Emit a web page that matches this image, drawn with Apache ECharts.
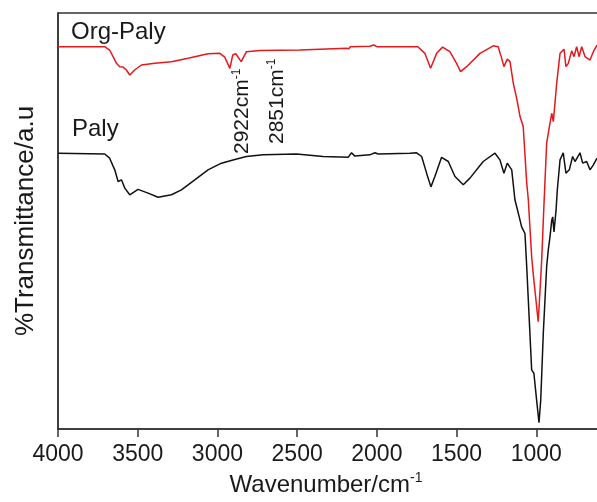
<!DOCTYPE html>
<html>
<head>
<meta charset="utf-8">
<title>FTIR</title>
<style>
    html, body { margin: 0; padding: 0; background: #fff; }
    #chart { width: 597px; height: 502px; }
</style>
</head>
<body>
<div id="chart"></div>
<script src="https://cdn.jsdelivr.net/npm/echarts@6/dist/echarts.min.js"></script>
<script>
    // wavenumber (cm-1) and transmittance (a.u.)
    const orgWave = [4000, 3707, 3676, 3633, 3613, 3592, 3571, 3550, 3519, 3477, 3393, 3288, 3184, 3059, 2985, 2954,
        2922, 2904, 2885, 2851, 2818, 2734, 2483, 2190, 2176, 2166, 2044, 2019, 2000, 1856, 1743, 1699, 1663, 1625,
        1588, 1542, 1500, 1475, 1437, 1353, 1270, 1239, 1217, 1203, 1182, 1165, 1144, 1121, 1102, 1082, 1060, 1050,
        1029, 1018, 1002, 988, 980, 966, 956, 935, 914, 903, 893, 872, 851, 826, 814, 799, 778, 763, 747, 732, 715,
        694, 663, 642, 619];
    const orgT = [91.9, 91.9, 91.1, 87.9, 87.1, 87.0, 86.3, 85.1, 86.3, 87.5, 87.9, 88.3, 89.1, 90.2, 90.3, 89.4,
        86.7, 89.9, 90.2, 88.3, 90.7, 91.0, 91.1, 91.5, 91.4, 91.9, 92.0, 92.3, 91.9, 91.9, 91.9, 90.3, 86.7, 90.3,
        91.8, 90.7, 87.9, 85.9, 87.1, 90.3, 92.1, 91.9, 89.1, 87.1, 88.9, 88.3, 83.1, 79.1, 75.1, 72.7, 59.1, 55.1,
        41.4, 36.8, 31.0, 25.8, 31.0, 40.6, 50.2, 68.7, 73.5, 75.9, 73.9, 83.1, 90.3, 91.3, 87.1, 87.9, 90.9, 89.5,
        91.9, 89.5, 91.9, 89.5, 88.7, 90.7, 92.3];

    const palyWave = [4000, 3707, 3676, 3644, 3623, 3602, 3581, 3550, 3498, 3435, 3372, 3288, 3226, 3142, 3059, 2975,
        2891, 2818, 2713, 2504, 2337, 2180, 2159, 2138, 2044, 2012, 1992, 1793, 1751, 1719, 1688, 1661, 1636, 1594,
        1552, 1510, 1458, 1416, 1333, 1259, 1228, 1203, 1182, 1154, 1134, 1107, 1092, 1071, 1060, 1040, 1029, 1015,
        998, 983, 972, 956, 935, 925, 914, 903, 897, 889, 876, 868, 851, 831, 814, 793, 772, 757, 726, 709, 684, 663,
        642, 619];
    const palyT = [66.3, 66.1, 65.1, 62.3, 59.5, 59.9, 57.9, 56.3, 57.6, 56.7, 55.7, 56.3, 57.5, 59.9, 62.3, 63.9,
        64.8, 65.5, 65.9, 66.1, 65.5, 65.3, 66.4, 65.6, 65.9, 66.4, 66.1, 66.3, 66.4, 65.5, 61.5, 58.2, 60.7, 65.3,
        64.3, 60.7, 58.7, 60.3, 64.3, 66.3, 64.7, 61.5, 63.9, 62.3, 55.1, 51.0, 48.6, 47.0, 39.0, 23.0, 14.2, 13.4,
        7.0, 1.5, 7.0, 23.0, 39.0, 43.0, 46.2, 50.2, 51.0, 47.4, 52.6, 57.5, 64.7, 66.4, 61.5, 62.3, 65.5, 64.3,
        66.4, 63.9, 64.3, 62.3, 63.5, 65.1];

    const xTicks = [500, 1000, 1500, 2000, 2500, 3000, 3500, 4000];

    function pairs(xs, ys) {
        return xs.map(function (x, i) { return [x, ys[i]]; });
    }

    const FONT = "'Liberation Sans', Arial, sans-serif";
    const INK = '#1a1a1a';

    let myChart = echarts.init(document.getElementById('chart'), null, {renderer: 'canvas'});
    let option = {
        animation: false,
        backgroundColor: '#fff',
        textStyle: {fontFamily: FONT},
        grid: {
            left: 58,
            right: -19,   // the figure is cut off at about 620 cm-1
            top: 13,
            bottom: 73,
            outerBoundsMode: 'none',
            containLabel: false,
            show: true,
            borderColor: '#333',
            borderWidth: 1.5
        },
        xAxis: {
            type: 'value',
            inverse: true,
            min: 500,
            max: 4000,
            interval: 500,
            name: 'Wavenumber/cm{s|-1}',
            nameLocation: 'middle',
            nameGap: 42,
            nameTextStyle: {
                fontFamily: FONT, fontSize: 24, color: INK, padding: [0, 22, 0, 0],
                lineHeight: 28,
                rich: {s: {fontSize: 14, verticalAlign: 'top', fontFamily: FONT, color: INK}}
            },
            axisLine: {lineStyle: {color: '#333', width: 1.5}},
            axisTick: {show: true, length: 8, inside: false, lineStyle: {color: '#333', width: 1.5}},
            axisLabel: {
                fontFamily: FONT, fontSize: 23, color: INK, margin: 14,
                formatter: function (v) { return xTicks.indexOf(v) > 0 ? String(v) : ''; }
            },
            splitLine: {show: false}
        },
        yAxis: {
            type: 'value',
            min: 0,
            max: 100,
            name: '%Transmittance/a.u',
            nameLocation: 'middle',
            nameGap: 19,
            nameTextStyle: {fontFamily: FONT, fontSize: 26, color: INK},
            axisLine: {show: true, lineStyle: {color: '#333', width: 1.5}},
            axisTick: {show: false},
            axisLabel: {show: false},
            splitLine: {show: false}
        },
        series: [{
            name: 'Org-Paly',
            type: 'line',
            data: pairs(orgWave, orgT),
            showSymbol: false,
            lineStyle: {color: '#e3191c', width: 1.5},
            z: 3
        }, {
            name: 'Paly',
            type: 'line',
            data: pairs(palyWave, palyT),
            showSymbol: false,
            lineStyle: {color: '#111', width: 1.5},
            z: 2
        }],
        graphic: [{
            type: 'text', left: 71, top: 20,
            style: {text: 'Org-Paly', font: '24px ' + FONT, fill: INK}
        }, {
            type: 'text', left: 72, top: 117,
            style: {text: 'Paly', font: '24px ' + FONT, fill: INK}
        }, {
            type: 'text', x: 231, y: 154, rotation: Math.PI / 2,
            style: {
                text: '2922cm{s|-1}', font: '21px ' + FONT, fill: INK, lineHeight: 22,
                rich: {s: {fontSize: 12, verticalAlign: 'top', fontFamily: FONT, fill: INK}}
            }
        }, {
            type: 'text', x: 266, y: 144, rotation: Math.PI / 2,
            style: {
                text: '2851cm{s|-1}', font: '21px ' + FONT, fill: INK, lineHeight: 22,
                rich: {s: {fontSize: 12, verticalAlign: 'top', fontFamily: FONT, fill: INK}}
            }
        }]
    };
    myChart.setOption(option);
</script>
</body>
</html>
